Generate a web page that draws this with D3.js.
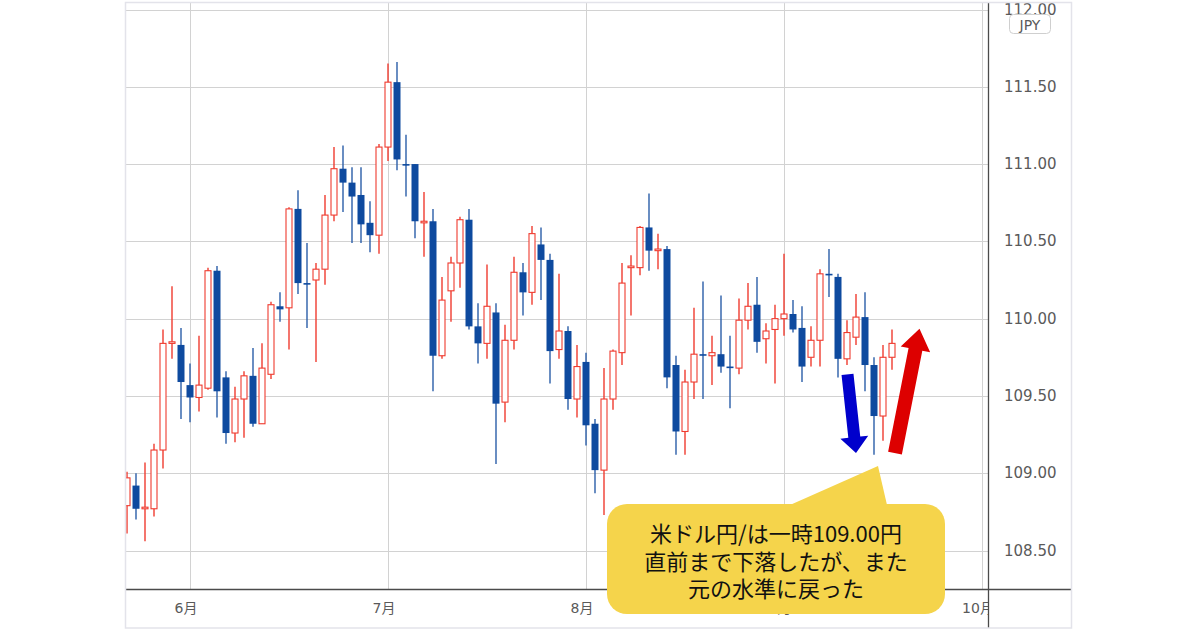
<!DOCTYPE html>
<html>
<head>
<meta charset="utf-8">
<script src="https://cdn.jsdelivr.net/npm/d3@7/dist/d3.min.js"></script>
<style>
  html, body { margin: 0; padding: 0; background: #fff; }
  svg { display: block; }
</style>
</head>
<body>
<svg id="chart" width="1200" height="630"></svg>
<script>
// ---------------- DATA ----------------
const dates = [
  "2021-05-21","2021-05-24","2021-05-25","2021-05-26","2021-05-27","2021-05-28","2021-05-31",
  "2021-06-01","2021-06-02","2021-06-03","2021-06-04","2021-06-07","2021-06-08","2021-06-09","2021-06-10","2021-06-11",
  "2021-06-14","2021-06-15","2021-06-16","2021-06-17","2021-06-18","2021-06-21","2021-06-22","2021-06-23","2021-06-24","2021-06-25",
  "2021-06-28","2021-06-29","2021-06-30",
  "2021-07-01","2021-07-02","2021-07-05","2021-07-06","2021-07-07","2021-07-08","2021-07-09","2021-07-12","2021-07-13","2021-07-14",
  "2021-07-15","2021-07-16","2021-07-19","2021-07-20","2021-07-21","2021-07-22","2021-07-23","2021-07-26","2021-07-27","2021-07-28",
  "2021-07-29","2021-07-30",
  "2021-08-02","2021-08-03","2021-08-04","2021-08-05","2021-08-06","2021-08-09","2021-08-10","2021-08-11","2021-08-12","2021-08-13",
  "2021-08-16","2021-08-17","2021-08-18","2021-08-19","2021-08-20","2021-08-23","2021-08-24","2021-08-25","2021-08-26","2021-08-27",
  "2021-08-30","2021-08-31",
  "2021-09-01","2021-09-02","2021-09-03","2021-09-06","2021-09-07","2021-09-08","2021-09-09","2021-09-10","2021-09-13","2021-09-14",
  "2021-09-15","2021-09-16","2021-09-17"
];
const open = [
  108.79,108.92,108.77,108.77,109.15,109.84,109.83,
  109.57,109.49,109.55,110.31,109.62,109.26,109.48,109.63,109.32,
  109.64,110.08,110.07,110.71,110.23,110.25,110.32,110.67,110.97,110.88,
  110.80,110.62,110.54,
  111.11,111.53,111.00,111.00,110.62,110.63,109.76,110.18,110.36,110.64,
  109.95,109.84,110.04,109.46,109.86,110.30,110.17,110.48,110.38,109.80,
  109.92,109.48,
  109.72,109.32,109.02,109.48,109.78,110.33,110.33,110.59,110.44,110.45,
  109.70,109.27,109.59,109.77,109.76,109.77,109.69,109.68,109.99,110.09,
  109.87,109.93,
  110.00,110.03,109.94,109.75,109.86,110.29,110.27,109.74,109.88,110.01,
  109.70,109.37,109.75
];
const high = [
  109.01,109.00,109.07,109.19,109.93,110.21,109.94,
  109.71,109.89,110.33,110.34,109.66,109.56,109.66,109.81,109.84,
  110.11,110.17,110.72,110.83,110.49,110.36,110.80,111.11,111.12,110.98,
  110.98,110.76,111.13,
  111.65,111.66,111.19,111.00,110.82,110.71,110.27,110.40,110.66,110.71,
  110.10,110.35,110.10,109.96,110.40,110.36,110.60,110.59,110.42,110.29,
  109.95,109.83,
  109.78,109.35,109.68,109.80,110.36,110.41,110.60,110.81,110.55,110.47,
  109.76,109.67,110.07,110.24,109.89,110.15,109.89,110.13,110.23,110.27,
  109.97,110.09,
  110.42,110.12,110.08,109.95,110.32,110.45,110.29,109.99,110.16,110.17,
  109.75,109.83,109.93
];
const low = [
  108.61,108.70,108.56,108.72,109.03,109.74,109.35,
  109.33,109.40,109.54,109.36,109.19,109.20,109.23,109.30,109.32,
  109.61,109.98,109.80,110.16,109.94,109.72,110.22,110.63,110.69,110.49,
  110.49,110.43,110.42,
  111.02,110.96,110.79,110.52,110.40,109.53,109.74,109.98,110.20,109.93,
  109.71,109.74,109.06,109.33,109.80,110.02,110.09,110.12,109.58,109.74,
  109.41,109.36,
  109.18,108.87,108.73,109.41,109.70,110.02,110.28,110.31,110.32,109.55,
  109.12,109.12,109.48,109.48,109.57,109.65,109.42,109.64,109.93,109.78,
  109.71,109.58,
  109.89,109.91,109.59,109.69,109.69,110.14,109.62,109.70,109.83,109.53,
  109.12,109.21,109.67
];
const close = [
  108.97,108.77,108.78,109.15,109.84,109.85,109.59,
  109.49,109.57,110.31,109.53,109.26,109.48,109.63,109.32,109.68,
  110.09,110.06,110.71,110.23,110.22,110.32,110.67,110.97,110.88,110.79,
  110.61,110.54,111.11,
  111.53,111.03,110.99,110.63,110.63,109.76,110.12,110.36,110.64,109.95,
  109.84,110.08,109.45,109.86,110.30,110.17,110.55,110.38,109.79,109.92,
  109.48,109.69,
  109.31,109.02,109.48,109.79,110.23,110.34,110.59,110.44,110.45,109.62,
  109.27,109.59,109.77,109.76,109.78,109.69,109.68,109.99,110.08,109.85,
  109.92,110.00,
  110.03,109.93,109.69,109.86,110.29,110.28,109.74,109.91,110.01,109.70,
  109.37,109.75,109.84
];
const yTicks = [108.5, 109.0, 109.5, 110.0, 110.5, 111.0, 111.5, 112.0];
const monthTickDates = ["2021-06-01","2021-07-01","2021-08-02","2021-09-01","2021-10-01"];
const monthTickLabels = ["6月","7月","8月","9月","10月"];
const currencyLabel = "JPY";
const calloutLines = ["米ドル円/は一時109.00円", "直前まで下落したが、また", "元の水準に戻った"];

// ---------------- SETUP ----------------
const W = 1200, H = 630;
const frame = {left: 125, top: 3, right: 1071, bottom: 628};
const plot = {left: 125, top: 3, right: 988, bottom: 589};

const parse = d3.timeParse("%Y-%m-%d");
const fmt = d3.timeFormat("%Y-%m-%d");
const calendar = d3.timeDay.range(parse("2021-05-21"), parse("2021-10-02"))
  .filter(d => d.getDay() !== 0 && d.getDay() !== 6)
  .map(fmt);

const x = d3.scaleBand().domain(calendar).range([122.5, 122.5 + 9 * calendar.length]).padding(0);
const xc = d => x(d) + x.bandwidth() / 2;
const y = d3.scaleLinear().domain([108.5, 112]).range([550.5, 9.5]);

const candles = dates.map((d, i) => ({date: d, o: open[i], h: high[i], l: low[i], c: close[i]}));

const svg = d3.select("#chart");
svg.append("rect").attr("width", W).attr("height", H).attr("fill", "#fff");

const defs = svg.append("defs");
defs.append("clipPath").attr("id", "plotClip").append("rect")
  .attr("x", plot.left).attr("y", plot.top)
  .attr("width", plot.right - plot.left).attr("height", plot.bottom - plot.top);

// grid
const grid = svg.append("g").attr("clip-path", "url(#plotClip)");
grid.selectAll("line.h").data(yTicks).join("line")
  .attr("x1", plot.left).attr("x2", plot.right)
  .attr("y1", d => Math.round(y(d)) + 0.5).attr("y2", d => Math.round(y(d)) + 0.5)
  .attr("stroke", "#d2d2d2").attr("stroke-width", 1);
grid.selectAll("line.v").data(monthTickDates).join("line")
  .attr("x1", d => Math.round(xc(d)) + 0.5).attr("x2", d => Math.round(xc(d)) + 0.5)
  .attr("y1", plot.top).attr("y2", plot.bottom)
  .attr("stroke", "#d2d2d2").attr("stroke-width", 1);

// candles
const cg = svg.append("g").attr("clip-path", "url(#plotClip)");
const BLUE = "#0e4a9f", BLUE_WICK = "#2a5da8", RED = "#ef3b2f";
const g = cg.selectAll("g.candle").data(candles).join("g");
g.append("line")
  .attr("x1", d => xc(d.date)).attr("x2", d => xc(d.date))
  .attr("y1", d => y(d.h)).attr("y2", d => y(d.l))
  .attr("stroke", d => d.c >= d.o ? RED : BLUE_WICK)
  .attr("stroke-width", 1.4);
g.append("rect")
  .attr("x", d => d.c >= d.o ? xc(d.date) - 3 : xc(d.date) - 3.5)
  .attr("width", d => d.c >= d.o ? 6 : 7)
  .attr("y", d => {
    const t = y(Math.max(d.o, d.c)), b = y(Math.min(d.o, d.c));
    return (b - t) < 1.6 ? (t + b) / 2 - 0.8 : t;
  })
  .attr("height", d => Math.max(1.6, y(Math.min(d.o, d.c)) - y(Math.max(d.o, d.c))))
  .attr("fill", d => d.c >= d.o ? "#fff" : BLUE)
  .attr("stroke", d => d.c >= d.o ? RED : "none")
  .attr("stroke-width", 1.1);

// axes lines
svg.append("line").attr("x1", plot.left).attr("x2", frame.right)
  .attr("y1", plot.bottom + 0.5).attr("y2", plot.bottom + 0.5)
  .attr("stroke", "#4a4a4a").attr("stroke-width", 1.3);
svg.append("line").attr("x1", plot.right + 0.5).attr("x2", plot.right + 0.5)
  .attr("y1", frame.top).attr("y2", frame.bottom)
  .attr("stroke", "#4a4a4a").attr("stroke-width", 1.3);

// y labels
svg.append("g").selectAll("text").data(yTicks).join("text")
  .attr("x", 1004).attr("y", d => y(d))
  .attr("dominant-baseline", "central")
  .attr("font-family", "DejaVu Sans, sans-serif").attr("font-size", 15)
  .attr("fill", "#5a5a5a")
  .text(d => d3.format(".2f")(d));

// month labels (clipped at plot right edge)
defs.append("clipPath").attr("id", "xLabClip").append("rect")
  .attr("x", plot.left).attr("y", plot.bottom).attr("width", plot.right - plot.left).attr("height", 40);
svg.append("g").attr("clip-path", "url(#xLabClip)")
  .selectAll("text").data(monthTickDates).join("text")
  .attr("x", d => xc(d) - 4).attr("y", 608)
  .attr("text-anchor", "middle").attr("dominant-baseline", "central")
  .attr("font-family", "DejaVu Sans, 'Noto Sans CJK JP', sans-serif").attr("font-size", 14)
  .attr("fill", "#5a5a5a")
  .text((d, i) => monthTickLabels[i]);

// cover above frame top (cuts top label)
svg.append("rect").attr("x", 0).attr("y", 0).attr("width", W).attr("height", frame.top).attr("fill", "#fff");

// JPY badge
svg.append("rect").attr("x", 1009.5).attr("y", 14.5).attr("width", 41).attr("height", 19).attr("rx", 4)
  .attr("fill", "#fff").attr("stroke", "#cfcfcf");
svg.append("text").attr("x", 1030).attr("y", 24.5).attr("text-anchor", "middle").attr("dominant-baseline", "central")
  .attr("font-family", "DejaVu Sans, sans-serif").attr("font-size", 14).attr("fill", "#5a5a5a").text(currencyLabel);

// frame border
svg.append("rect").attr("x", frame.left + 0.5).attr("y", frame.top - 0.5)
  .attr("width", frame.right - frame.left).attr("height", frame.bottom - frame.top + 0.5)
  .attr("fill", "none").attr("stroke", "#e3e3ea").attr("stroke-width", 1.5);

// ---------------- ANNOTATIONS ----------------
function arrowPath(x0, y0, x1, y1, shaftW, headW, headL) {
  const dx = x1 - x0, dy = y1 - y0, len = Math.hypot(dx, dy);
  const ux = dx / len, uy = dy / len, px = -uy, py = ux;
  const bx = x1 - ux * headL, by = y1 - uy * headL;
  const pts = [
    [x0 + px * shaftW / 2, y0 + py * shaftW / 2],
    [bx + px * shaftW / 2, by + py * shaftW / 2],
    [bx + px * headW / 2, by + py * headW / 2],
    [x1, y1],
    [bx - px * headW / 2, by - py * headW / 2],
    [bx - px * shaftW / 2, by - py * shaftW / 2],
    [x0 - px * shaftW / 2, y0 - py * shaftW / 2]
  ];
  return "M" + pts.map(p => p.join(",")).join("L") + "Z";
}
// blue arrow (down) and red arrow (up), anchored in data space
svg.append("path")
  .attr("d", arrowPath(xc("2021-09-09") + 9.5, y(109.64), xc("2021-09-10") + 9, y(109.13), 12, 28, 16))
  .attr("fill", "#0000cc");
svg.append("path")
  .attr("d", arrowPath(xc("2021-09-15") + 21, y(109.13), xc("2021-09-17") + 27.5, y(109.935), 14, 30, 21))
  .attr("fill", "#dd0000");

// callout
const co = {x: 607, y: 504, w: 338, h: 110, r: 20};
const callout = svg.append("g");
callout.append("path")
  .attr("d", `M${co.x + co.r - 30 + 193},${co.y + 1} L878,466 L887,${co.y + 1} Z`)
  .attr("fill", "#f5d44b");
callout.append("rect").attr("x", co.x).attr("y", co.y).attr("width", co.w).attr("height", co.h)
  .attr("rx", co.r).attr("fill", "#f5d44b");
callout.selectAll("text").data(calloutLines).join("text")
  .attr("x", co.x + co.w / 2).attr("y", (d, i) => 532 + i * 27.5)
  .attr("text-anchor", "middle").attr("dominant-baseline", "central")
  .attr("font-family", "'Noto Sans CJK JP', sans-serif").attr("font-size", 22)
  .attr("fill", "#111")
  .text(d => d);
</script>
</body>
</html>
